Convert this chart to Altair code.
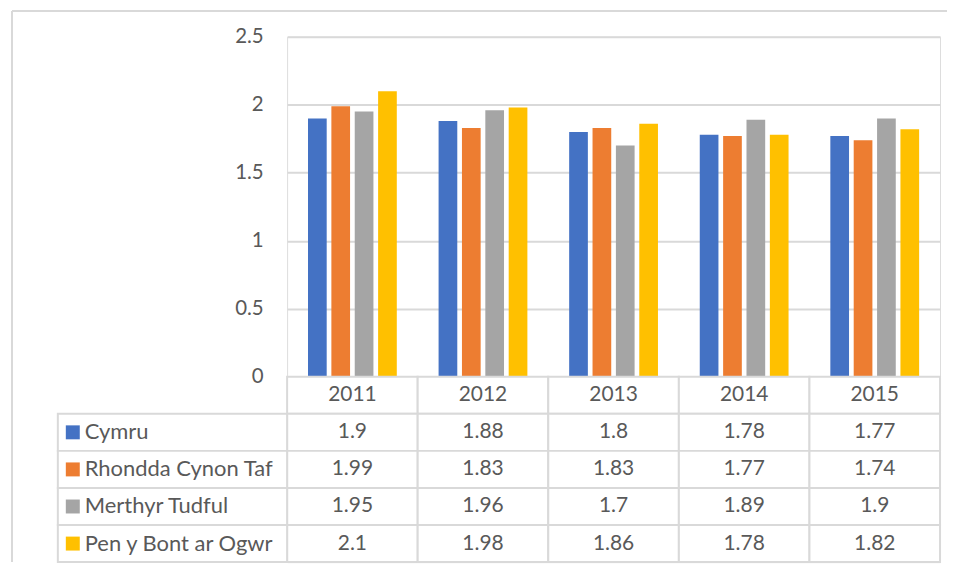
import altair as alt
import pandas as pd

years = ["2011", "2012", "2013", "2014", "2015"]
series = ["Cymru", "Rhondda Cynon Taf", "Merthyr Tudful", "Pen y Bont ar Ogwr"]
cymru = [1.9, 1.88, 1.8, 1.78, 1.77]
rhondda = [1.99, 1.83, 1.83, 1.77, 1.74]
merthyr = [1.95, 1.96, 1.7, 1.89, 1.9]
penybont = [2.1, 1.98, 1.86, 1.78, 1.82]
colors = ["#4472C4", "#ED7D31", "#A5A5A5", "#FFC000"]
y_ticks = [0, 0.5, 1, 1.5, 2, 2.5]

FONT = "Lato"
TXT = "#595959"
GRID = "#D9D9D9"
HEADER = "header"

all_values = [cymru, rhondda, merthyr, penybont]
recs = []
for s, vals in zip(series, all_values):
    for yr, v in zip(years, vals):
        recs.append({"year": yr, "series": s, "row": s, "value": v, "label": f"{v:g}"})
df = pd.DataFrame(recs)

hdr = pd.DataFrame({"year": years, "row": [HEADER] * len(years), "label": years})
cells = pd.concat([hdr, df[["year", "row", "label"]]], ignore_index=True)
names = pd.DataFrame({"row": series, "series": series})

color_scale = alt.Scale(domain=series, range=colors)
W = 655
H_BAR = 341
H_TAB = 186

# ---------------- bar chart ----------------
bars = alt.Chart(df).mark_bar().encode(
    x=alt.X("year:N", sort=years, axis=None,
            scale=alt.Scale(paddingInner=0.32, paddingOuter=0.16)),
    xOffset=alt.XOffset("series:N", sort=series, scale=alt.Scale(paddingInner=0.2)),
    y=alt.Y("value:Q", scale=alt.Scale(domain=[0, 2.5], nice=False),
            axis=alt.Axis(values=y_ticks, grid=True, gridColor=GRID, gridWidth=2,
                          domain=False, ticks=False, labelPadding=24,
                          labelFontSize=20.5, labelColor=TXT, labelFont=FONT,
                          labelExpr="datum.value + ''", title=None)),
    color=alt.Color("series:N", scale=color_scale, legend=None),
)
frame_top = alt.Chart(names).mark_rule(color=GRID, strokeWidth=2).encode(
    x=alt.value(-276), x2=alt.value(662), y=alt.value(-26))
frame_left = alt.Chart(names).mark_rule(color=GRID, strokeWidth=2).encode(
    x=alt.value(-276), y=alt.value(-26), y2=alt.value(H_BAR + H_TAB))
bar_chart = alt.layer(frame_top, frame_left, bars).properties(width=W, height=H_BAR)

# ---------------- data table ----------------
row_dom = [HEADER] + series
xs = alt.X("year:N", sort=years, axis=None, scale=alt.Scale(domain=years, paddingInner=0, paddingOuter=0))
ys = alt.Y("row:N", axis=None, scale=alt.Scale(domain=row_dom, paddingInner=0, paddingOuter=0))

cell_rects = alt.Chart(cells).mark_rect(fill="white", stroke=GRID, strokeWidth=2).encode(x=xs, y=ys)
cell_text = alt.Chart(cells).mark_text(font=FONT, fontSize=21, color=TXT, baseline="middle").encode(
    x=xs, y=ys, text="label:N")
name_rects = alt.Chart(names).mark_rect(fill="white", stroke=GRID, strokeWidth=2).encode(
    x=alt.value(-230), x2=alt.value(0), y=ys)
swatches = alt.Chart(names).mark_point(shape="square", filled=True, opacity=1, size=196).encode(
    x=alt.value(-215), y=ys, color=alt.Color("series:N", scale=color_scale, legend=None))
name_text = alt.Chart(names).mark_text(font=FONT, fontSize=22, color=TXT, align="left",
                                       baseline="middle").encode(
    x=alt.value(-203), y=ys, text="series:N")
table = alt.layer(cell_rects, name_rects, cell_text, swatches, name_text).properties(width=W, height=H_TAB)

chart = alt.vconcat(bar_chart, table, spacing=0, bounds="flush").properties(
    padding={"left": 2, "top": 0, "right": 0, "bottom": 0}
).configure_view(stroke=None).configure(font=FONT)

chart.save("out.html", embed_options={"renderer": "svg", "actions": False})
